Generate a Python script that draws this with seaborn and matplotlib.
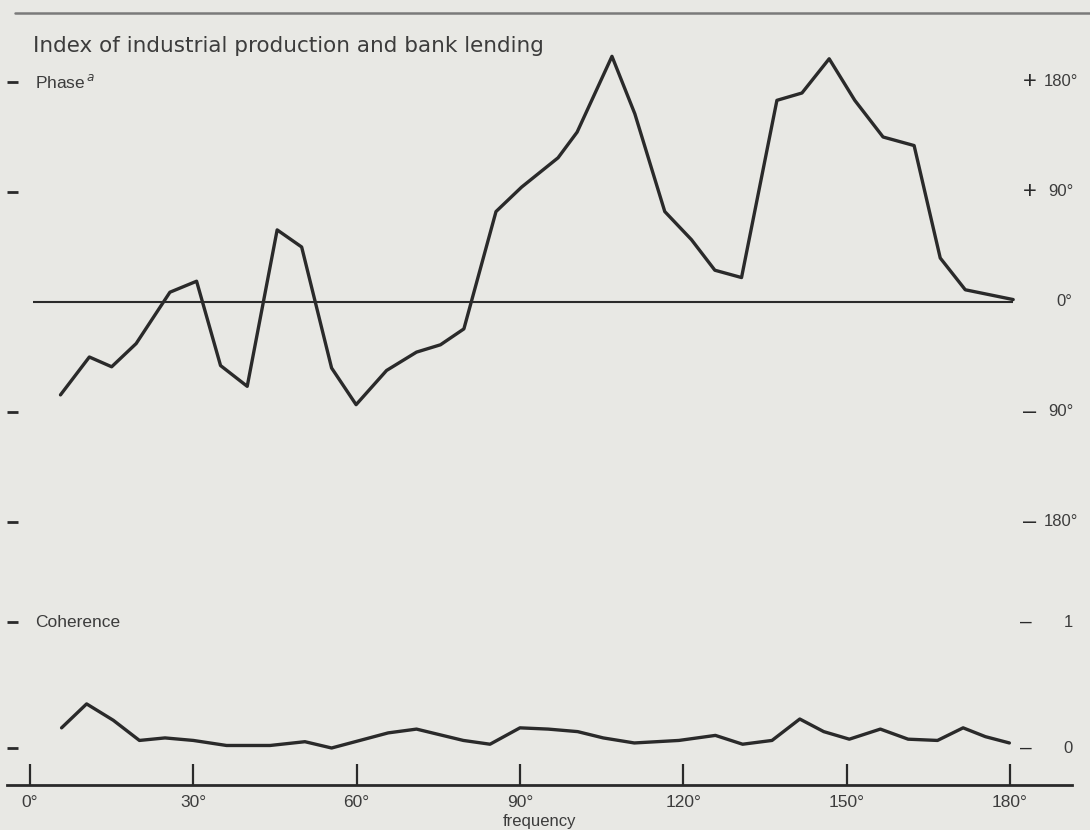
import numpy as np
import pandas as pd
import matplotlib
matplotlib.use("Agg")
import matplotlib.pyplot as plt
import seaborn as sns
from matplotlib.lines import Line2D

# ---------------- data ----------------
phase_freq = [5.6, 10.9, 15.0, 19.5, 25.7, 30.6, 35.0, 39.9, 45.4, 49.9,
              55.4, 59.9, 65.5, 71.0, 75.4, 79.7, 85.6, 90.3, 97.0, 100.5,
              106.9, 111.1, 116.6, 121.5, 125.8, 130.7, 137.2, 141.8, 146.8,
              151.5, 156.7, 162.4, 167.2, 171.8, 180.6]
phase_deg = [-76, -45, -53, -34, 8, 17, -52, -69, 59, 45,
             -54, -84, -56, -41, -35, -22, 74, 94, 118, 139,
             201, 154, 74, 51, 26, 20, 165, 171, 199,
             165, 135, 128, 36, 10, 2]

coh_freq = [5.8, 10.4, 15.3, 20.1, 24.8, 30.0, 36.1, 44.1, 50.5, 55.4,
            60.6, 65.8, 71.0, 79.6, 84.5, 90.0, 95.2, 100.6, 105.3, 111.0,
            119.2, 125.9, 130.9, 136.3, 141.4, 145.8, 150.5, 156.2, 161.3,
            166.7, 171.4, 175.5, 179.9]
coh_val = [0.16, 0.35, 0.22, 0.06, 0.08, 0.06, 0.02, 0.02, 0.05, 0.00,
           0.06, 0.12, 0.15, 0.06, 0.03, 0.16, 0.15, 0.13, 0.08, 0.04,
           0.06, 0.10, 0.03, 0.06, 0.23, 0.13, 0.07, 0.15, 0.07,
           0.06, 0.16, 0.09, 0.04]

freq_ticks = [0, 30, 60, 90, 120, 150, 180]
freq_tick_labels = ["0°", "30°", "60°", "90°", "120°", "150°", "180°"]
phase_ticks = [180, 90, -90, -180]
phase_right = [(180, "+", "180°"), (90, "+", "90°"), (0, "", "0°"),
               (-90, "–", "90°"), (-180, "–", "180°")]
coh_ticks = [1, 0]
title = "Index of industrial production and bank lending"

# ---------------- style ----------------
BG = "#e8e8e4"
INK = "#2a2a2a"
TXT = "#3c3c3c"
sns.set_theme(style="white")
plt.rcParams["font.family"] = ["Liberation Sans", "DejaVu Sans"]
plt.rcParams["figure.facecolor"] = BG
plt.rcParams["axes.facecolor"] = "none"

W, H = 1090, 830
fig = plt.figure(figsize=(W / 100, H / 100), dpi=100)

def pbox(x0, y0, x1, y1):
    return [x0 / W, 1 - y1 / H, (x1 - x0) / W, (y1 - y0) / H]

X0, X1 = 7, 1072                   # pixel span of the axes
PX_PER_DEG = 5.444
xlim = ((X0 - 30) / PX_PER_DEG, (X1 - 30) / PX_PER_DEG)

# phase axes: 0 at px 302, 90 deg = 110 px
ax_p = fig.add_axes(pbox(X0, 40, X1, 540))
ph_scale = 110 / 90
ax_p.set_ylim((302 - 540) / ph_scale, (302 - 40) / ph_scale)
ax_p.set_xlim(*xlim)

# coherence axes: 0 at px 748, 1 at px 622
ax_c = fig.add_axes(pbox(X0, 600, X1, 785))
c_scale = 126
ax_c.set_ylim((748 - 785) / c_scale, (748 - 600) / c_scale)
ax_c.set_xlim(*xlim)

df_p = pd.DataFrame({"freq": phase_freq, "phase": phase_deg})
df_c = pd.DataFrame({"freq": coh_freq, "coh": coh_val})

ax_p.hlines(0, 0.5, phase_freq[-1], color=INK, lw=1.5, zorder=1)
sns.lineplot(data=df_p, x="freq", y="phase", ax=ax_p, color=INK, lw=2.4,
             sort=False, estimator=None, zorder=2)
sns.lineplot(data=df_c, x="freq", y="coh", ax=ax_c, color=INK, lw=2.4,
             sort=False, estimator=None, zorder=2)

for ax in (ax_p, ax_c):
    for s in ("top", "right", "left", "bottom"):
        ax.spines[s].set_visible(False)
    ax.set_xlabel("")
    ax.set_ylabel("")

ax_p.set_xticks([])
ax_p.set_yticks(phase_ticks)
ax_p.tick_params(axis="y", direction="in", length=8, width=2, color=INK,
                 labelleft=False, left=True)
ax_c.set_yticks(coh_ticks)
ax_c.tick_params(axis="y", direction="in", length=8, width=2, color=INK,
                 labelleft=False, left=True)

ax_c.spines["bottom"].set_visible(True)
ax_c.spines["bottom"].set_color(INK)
ax_c.spines["bottom"].set_linewidth(2.0)
ax_c.set_xticks(freq_ticks)
ax_c.set_xticklabels(freq_tick_labels)
ax_c.tick_params(axis="x", direction="in", length=15, width=1.6, color=INK,
                 bottom=True, pad=7, labelsize=12.5, labelcolor=TXT)
ax_c.set_xlabel("frequency", fontsize=12, color=TXT, labelpad=3)

# right-hand value labels
sign_x = (1030 - 30) / PX_PER_DEG
num_x = (1061 - 30) / PX_PER_DEG
for val, sign, lab in phase_right:
    if sign:
        ax_p.text(sign_x, val, sign, ha="center", va="center", fontsize=17,
                  color=INK, clip_on=False)
    ax_p.text(num_x + (0.6 if not sign else 0), val, lab, ha="center",
              va="center", fontsize=12, color=TXT, clip_on=False)
for val in coh_ticks:
    ax_c.text((1026 - 30) / PX_PER_DEG, val, "–", ha="center", va="center",
              fontsize=15, color=INK, clip_on=False)
    ax_c.text((1068 - 30) / PX_PER_DEG, val, str(val), ha="center",
              va="center", fontsize=12, color=TXT, clip_on=False)

# panel labels
ax_p.text((35 - 30) / PX_PER_DEG, phase_ticks[0], "Phase$^{\\,a}$",
          ha="left", va="center", fontsize=12.5, color=TXT)
ax_c.text((35 - 30) / PX_PER_DEG, coh_ticks[0], "Coherence",
          ha="left", va="center", fontsize=12.5, color=TXT)

# title and top rule
fig.add_artist(Line2D([15 / W, 1.0], [1 - 13 / H, 1 - 13 / H],
                      color="#7a7a7a", lw=1.8))
fig.text(33 / W, 1 - 46 / H, title, ha="left", va="center", fontsize=15.5,
         color=TXT, family=["DejaVu Sans"])

fig.savefig("out.png", dpi=100, facecolor=BG)
